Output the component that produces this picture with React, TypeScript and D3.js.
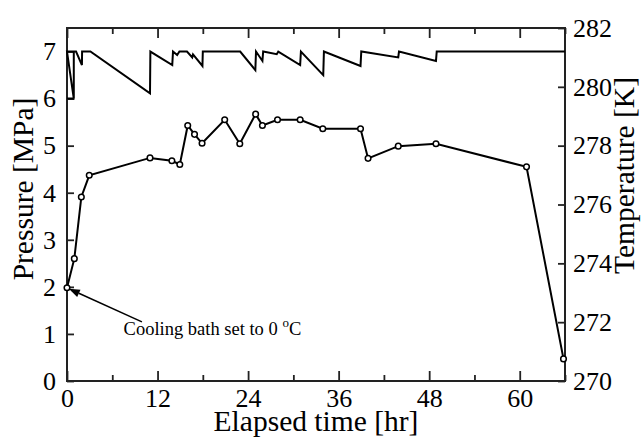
import { useRef, useEffect } from "react";
import * as d3 from "d3";

// Pressure readings (circles)
const hours = [0, 0.97, 1.9, 2.95, 11, 13.9, 14.95, 16, 16.9, 17.9, 20.9, 22.9, 25, 25.9, 27.9, 30.9, 33.9, 38.9, 39.9, 43.9, 48.9, 60.9, 65.8];
const pressure = [1.98, 2.6, 3.91, 4.37, 4.74, 4.68, 4.6, 5.43, 5.24, 5.05, 5.55, 5.04, 5.67, 5.43, 5.55, 5.55, 5.36, 5.36, 4.73, 4.99, 5.04, 4.55, 0.47];

// Bath temperature trace (right axis)
const tempHours = [0, 0.9, 0.9, 0, 0.9, 0.9, 1.2, 1.98, 2.0, 3.1, 11.0, 11.05, 13.95, 14.05, 14.6, 14.9, 15.9, 16.6, 16.7, 17.95, 18.0, 22.95, 24.96, 25.05, 25.9, 26.0, 27.8, 28.0, 30.9, 31.0, 33.96, 34.05, 38.9, 39.0, 43.9, 44.0, 48.9, 49.0, 66];
const temperature = [279.6, 279.6, 281.2, 281.2, 279.6, 281.2, 281.2, 280.74, 281.2, 281.2, 279.78, 281.2, 280.74, 281.2, 281.08, 281.2, 281.2, 281.0, 281.1, 280.71, 281.2, 281.2, 280.57, 281.2, 280.88, 281.2, 281.11, 281.2, 280.74, 281.2, 280.4, 281.2, 280.71, 281.2, 281.0, 281.2, 280.88, 281.2, 281.2];

// Ticks
const xMajor = [0, 12, 24, 36, 48, 60];
const xMinor = [6, 18, 30, 42, 54, 66];
const pTicks = [0, 1, 2, 3, 4, 5, 6, 7];
const tTicks = [270, 272, 274, 276, 278, 280, 282];

// Annotation (data units)
const noteText = { t: 7.5, p: 0.97 };
const noteArrow = { from: [9.93, 1.255], to: [0.24, 1.96] };

export default function App() {
  const svgRef = useRef<SVGSVGElement>(null);

  useEffect(() => {
    if (!svgRef.current) return;
    const svg = d3.select(svgRef.current);
    svg.selectAll("*").remove();

    const m = { left: 67, right: 565, top: 28, bottom: 381 };
    const font = "'Liberation Serif', 'Times New Roman', serif";
    const axisColor = "#222";

    const x = d3.scaleLinear().domain([0, 66]).range([m.left, m.right]);
    const yP = d3.scaleLinear().domain([0, 7.5]).range([m.bottom, m.top]);
    const yT = d3.scaleLinear().domain([270, 282]).range([m.bottom, m.top]);

    const styleAxis = (g: any) => {
      g.attr("font-family", font).attr("font-size", 26);
      g.select(".domain").remove();
      g.selectAll(".tick line").attr("stroke", axisColor).attr("stroke-width", 1.8);
      g.selectAll(".tick text").attr("fill", "#000");
    };

    // bottom axis
    svg.append("g")
      .attr("transform", `translate(0,${m.bottom})`)
      .call(d3.axisBottom(x).tickValues(xMajor).tickSize(-10).tickPadding(8).tickFormat(d3.format("d")))
      .call(styleAxis);
    svg.append("g")
      .attr("transform", `translate(0,${m.bottom})`)
      .call(d3.axisBottom(x).tickValues(xMinor).tickSize(-6).tickFormat(() => ""))
      .call(styleAxis);

    // top axis (ticks only)
    svg.append("g")
      .attr("transform", `translate(0,${m.top})`)
      .call(d3.axisTop(x).tickValues(xMajor).tickSize(-10).tickFormat(() => ""))
      .call(styleAxis);
    svg.append("g")
      .attr("transform", `translate(0,${m.top})`)
      .call(d3.axisTop(x).tickValues(xMinor).tickSize(-6).tickFormat(() => ""))
      .call(styleAxis);

    // left axis
    svg.append("g")
      .attr("transform", `translate(${m.left},0)`)
      .call(d3.axisLeft(yP).tickValues(pTicks).tickSize(-7).tickPadding(11).tickFormat(d3.format("d")))
      .call(styleAxis);

    // right axis
    svg.append("g")
      .attr("transform", `translate(${m.right},0)`)
      .call(d3.axisRight(yT).tickValues(tTicks).tickSize(-7).tickPadding(8).tickFormat(d3.format("d")))
      .call(styleAxis);

    // frame
    svg.append("rect")
      .attr("x", m.left)
      .attr("y", m.top)
      .attr("width", m.right - m.left)
      .attr("height", m.bottom - m.top)
      .attr("fill", "none")
      .attr("stroke", axisColor)
      .attr("stroke-width", 2);

    // temperature trace
    const tempData = tempHours.map((t, i) => [t, temperature[i]] as [number, number]);
    svg.append("path")
      .datum(tempData)
      .attr("fill", "none")
      .attr("stroke", "#000")
      .attr("stroke-width", 2)
      .attr("d", d3.line<[number, number]>().x((d) => x(d[0])).y((d) => yT(d[1])));

    // pressure trace
    const pData = hours.map((t, i) => [t, pressure[i]] as [number, number]);
    svg.append("path")
      .datum(pData)
      .attr("fill", "none")
      .attr("stroke", "#000")
      .attr("stroke-width", 2)
      .attr("d", d3.line<[number, number]>().x((d) => x(d[0])).y((d) => yP(d[1])));

    svg.append("g")
      .selectAll("circle")
      .data(pData)
      .enter()
      .append("circle")
      .attr("cx", (d) => x(d[0]))
      .attr("cy", (d) => yP(d[1]))
      .attr("r", 2.8)
      .attr("fill", "#fff")
      .attr("stroke", "#000")
      .attr("stroke-width", 1.5);

    // annotation arrow
    const x1 = x(noteArrow.from[0]), y1 = yP(noteArrow.from[1]);
    const x2 = x(noteArrow.to[0]), y2 = yP(noteArrow.to[1]);
    const ang = Math.atan2(y2 - y1, x2 - x1);
    const headLen = 11, headW = 4;
    const bx = x2 - headLen * Math.cos(ang), by = y2 - headLen * Math.sin(ang);
    svg.append("line")
      .attr("x1", x1).attr("y1", y1)
      .attr("x2", bx).attr("y2", by)
      .attr("stroke", "#000")
      .attr("stroke-width", 1.5);
    svg.append("path")
      .attr("d", `M${x2},${y2}L${bx + headW * Math.sin(ang)},${by - headW * Math.cos(ang)}L${bx - headW * Math.sin(ang)},${by + headW * Math.cos(ang)}Z`)
      .attr("fill", "#000");

    const note = svg.append("text")
      .attr("x", x(noteText.t))
      .attr("y", yP(noteText.p))
      .attr("font-family", font)
      .attr("font-size", 18.5)
      .attr("fill", "#000");
    note.append("tspan").text("Cooling bath set to 0 ");
    note.append("tspan").attr("dy", -8).attr("font-size", 13).text("o");
    note.append("tspan").attr("dy", 8).text("C");

    // axis titles
    svg.append("text")
      .attr("x", (m.left + m.right) / 2)
      .attr("y", 431)
      .attr("text-anchor", "middle")
      .attr("font-family", font)
      .attr("font-size", 29.5)
      .text("Elapsed time [hr]");

    svg.append("text")
      .attr("transform", "translate(33,189) rotate(-90)")
      .attr("text-anchor", "middle")
      .attr("font-family", font)
      .attr("font-size", 29.5)
      .text("Pressure [MPa]");

    svg.append("text")
      .attr("transform", "translate(634,175.5) rotate(-90)")
      .attr("text-anchor", "middle")
      .attr("font-family", font)
      .attr("font-size", 29.5)
      .text("Temperature [K]");
  }, []);

  return (
    <svg
      ref={svgRef}
      width={642}
      height={438}
      style={{ position: "absolute", left: 0, top: 0, background: "#fff" }}
    />
  );
}
